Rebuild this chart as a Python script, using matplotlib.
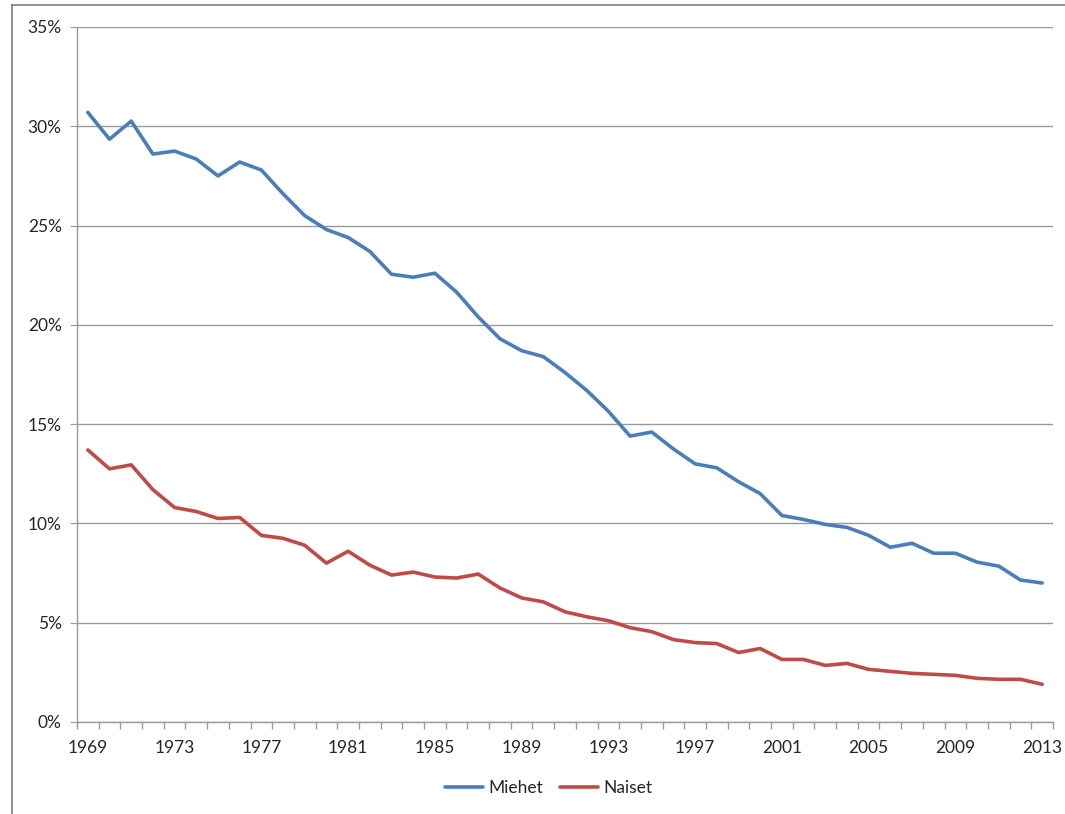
import matplotlib
matplotlib.use('Agg')
import matplotlib.pyplot as plt
from matplotlib.ticker import FuncFormatter, FixedLocator
import numpy as np

years = list(range(1969, 2014))
miehet = [30.7, 29.35, 30.26, 28.6, 28.75, 28.35, 27.5, 28.2, 27.8, 26.6,
          25.5, 24.8, 24.4, 23.7, 22.55, 22.4, 22.6, 21.65, 20.4, 19.3,
          18.7, 18.4, 17.6, 16.7, 15.65, 14.4, 14.6, 13.75, 13.0, 12.8,
          12.1, 11.5, 10.4, 10.2, 9.95, 9.8, 9.4, 8.8, 9.0, 8.5,
          8.5, 8.05, 7.85, 7.15, 7.0]
naiset = [13.7, 12.75, 12.95, 11.7, 10.8, 10.6, 10.25, 10.3, 9.4, 9.25,
          8.9, 8.0, 8.6, 7.9, 7.4, 7.55, 7.3, 7.25, 7.45, 6.75,
          6.25, 6.05, 5.55, 5.3, 5.1, 4.75, 4.55, 4.15, 4.0, 3.95,
          3.5, 3.7, 3.15, 3.15, 2.85, 2.95, 2.65, 2.55, 2.45, 2.4,
          2.35, 2.2, 2.15, 2.15, 1.9]
tick_years = list(range(1969, 2014, 4))

plt.rcParams['font.family'] = ['Lato', 'DejaVu Sans']
txt = '#262626'
grey = '#9A9A9A'

fig = plt.figure(figsize=(10.65, 8.14), dpi=100)
ax = fig.add_axes([77/1065, 1 - 722/814, (1053 - 77)/1065, (722 - 27)/814])

ax.plot(years, miehet, color='#4A7EBB', lw=2.6, label='Miehet', solid_capstyle='round')
ax.plot(years, naiset, color='#BE4B48', lw=2.6, label='Naiset', solid_capstyle='round')

ax.set_xlim(years[0] - 0.5, years[-1] + 0.5)
ax.set_ylim(0, 35)
ax.set_yticks(np.arange(0, 36, 5))
ax.yaxis.set_major_formatter(FuncFormatter(lambda v, p: f'{v:.0f}%'))
ax.grid(axis='y', color=grey, lw=1)
ax.set_axisbelow(True)

# category axis: ticks between categories, labels on every 4th year
ax.xaxis.set_major_locator(FixedLocator(tick_years))
ax.xaxis.set_minor_locator(FixedLocator(np.arange(years[0] - 0.5, years[-1] + 1, 1)))
ax.tick_params(axis='x', which='major', length=0, pad=13, labelsize=12.5, labelcolor=txt)
ax.tick_params(axis='x', which='minor', length=5, color=grey, width=1)
ax.tick_params(axis='y', length=5, color=grey, labelsize=12.5, labelcolor=txt, pad=6)

for s in ['top', 'right']:
    ax.spines[s].set_visible(False)
for s in ['left', 'bottom']:
    ax.spines[s].set_color(grey)
    ax.spines[s].set_linewidth(1)

leg = fig.legend(loc='center', bbox_to_anchor=(0.515, 1 - 788/814), ncol=2, frameon=False,
                 fontsize=12.5, handlelength=2.2, handletextpad=0.3, columnspacing=1.0)
for t in leg.get_texts():
    t.set_color(txt)

# outer chart frame (left and top edges visible)
fx, fy = 12/1065, 1 - 5/814
fig.add_artist(plt.Line2D([fx, fx], [0, fy], color='#808080', lw=1.2))
fig.add_artist(plt.Line2D([fx, 1], [fy, fy], color='#808080', lw=1.2))

fig.savefig('out.png', dpi=100)
